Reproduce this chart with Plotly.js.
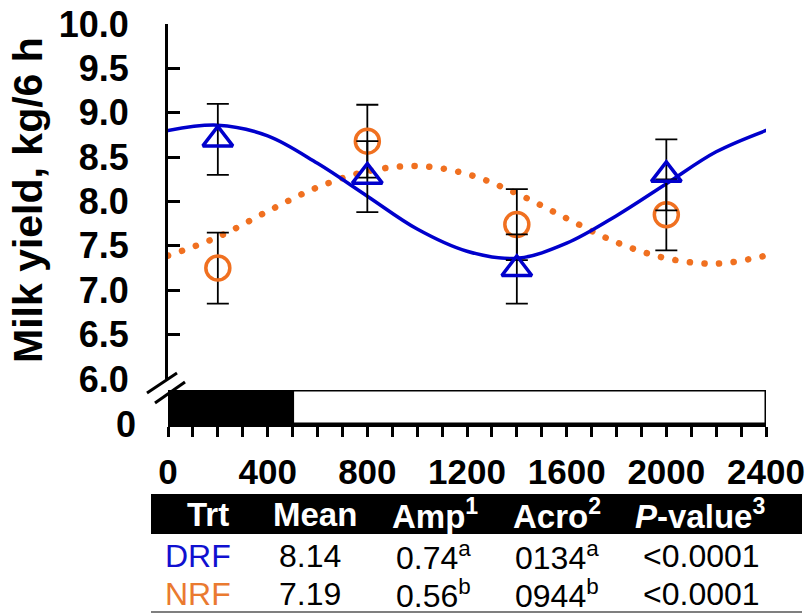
<!DOCTYPE html>
<html>
<head>
<meta charset="utf-8">
<script src="https://cdn.plot.ly/plotly-3.0.1.min.js"></script>
<style>
  html, body { margin: 0; padding: 0; background: #fff; }
  #chart { width: 808px; height: 615px; }
  /* round caps turn the dotted fit line into round dots */
  .scatterlayer .js-line { stroke-linecap: round !important; }
</style>
</head>
<body>
<div id="chart"></div>
<script>
// Sampling times (clock time, HHMM)
const sampleTimes = [200, 800, 1400, 2000];

// Observed milk yield (kg/6 h) and SE per treatment
const drfYield = [8.70, 8.28, 7.24, 8.30];
const drfSE    = [0.40, 0.40, 0.39, 0.40];
const nrfYield = [7.25, 8.68, 7.74, 7.85];
const nrfSE    = [0.40, 0.41, 0.40, 0.40];

// Fitted cosinor curves, read at regular clock times
const fitTimes = [0, 200, 400, 600, 800, 1000, 1200, 1400, 1600, 1800, 2000, 2200, 2400];
const drfFit   = [8.80, 8.86, 8.74, 8.43, 8.06, 7.69, 7.44, 7.36, 7.53, 7.84, 8.20, 8.56, 8.80];
const nrfFit   = [7.39, 7.60, 7.89, 8.16, 8.34, 8.40, 8.31, 8.09, 7.81, 7.54, 7.36, 7.30, 7.39];

// Light/dark bar under the axis break
const phaseStart = [0, 500];
const phaseEnd   = [500, 2400];
const phaseFill  = ['#000000', '#ffffff'];

// Axis ticks
const xTickVals = [0, 400, 800, 1200, 1600, 2000, 2400];
const yTickVals = [6.0, 6.5, 7.0, 7.5, 8.0, 8.5, 9.0, 9.5, 10.0];

// Cosinor summary table
const tableHeaders = ['Trt', 'Mean', 'Amp<sup>1</sup>', 'Acro<sup>2</sup>', '<i>P</i>-value<sup>3</sup>'];
const trtNames  = ['DRF', 'NRF'];
const trtMeans  = ['8.14', '7.19'];
const trtAmps   = ['0.74<sup>a</sup>', '0.56<sup>b</sup>'];
const trtAcros  = ['0134<sup>a</sup>', '0944<sup>b</sup>'];
const trtPvals  = ['&lt;0.0001', '&lt;0.0001'];

const BLUE = '#0000CC';
const ORANGE = '#F07020';
const FONT = 'Liberation Sans, Arial, sans-serif';

// plot area geometry (px) -> paper coordinates
const L = 168, R = 42, T = 24, B = 191, W = 808, H = 615;
const pw = W - L - R, ph = H - T - B;
const px = x => (x - L) / pw;
const py = y => (H - B - y) / ph;

const traces = [
  { x: fitTimes, y: nrfFit, type: 'scatter', mode: 'lines',
    line: { color: ORANGE, width: 6.5, dash: '0.1px,14.6px', shape: 'spline', smoothing: 1 },
    hoverinfo: 'skip', showlegend: false },
  { x: fitTimes, y: drfFit, type: 'scatter', mode: 'lines',
    line: { color: BLUE, width: 3.5, shape: 'spline', smoothing: 1 },
    hoverinfo: 'skip', showlegend: false },
  { x: sampleTimes, y: nrfYield, type: 'scatter', mode: 'markers',
    error_y: { type: 'data', array: nrfSE, visible: true, color: '#000', thickness: 1.8, width: 11 },
    marker: { symbol: 'circle-open', size: 24, color: ORANGE, line: { width: 3.5, color: ORANGE } },
    showlegend: false },
  { x: sampleTimes, y: drfYield, type: 'scatter', mode: 'markers',
    error_y: { type: 'data', array: drfSE, visible: true, color: '#000', thickness: 1.8, width: 11 },
    marker: { symbol: 'triangle-up-open', size: 26, color: BLUE, line: { width: 3.5, color: BLUE } },
    showlegend: false }
];

const shapes = [];
// light/dark bar on the lower axis
for (let i = 0; i < phaseStart.length; i++) {
  shapes.push({ type: 'rect', xref: 'x', yref: 'y2', x0: phaseStart[i], x1: phaseEnd[i], y0: 0, y1: 1,
    fillcolor: phaseFill[i], line: { color: '#000', width: 3 }, layer: 'above' });
}
// axis break marks
shapes.push({ type: 'line', xref: 'paper', yref: 'paper', x0: px(147), y0: py(393), x1: px(177), y1: py(373),
  line: { color: '#000', width: 3 } });
shapes.push({ type: 'line', xref: 'paper', yref: 'paper', x0: px(155), y0: py(403), x1: px(185), y1: py(382),
  line: { color: '#000', width: 3 } });
// table header band and bottom rule
shapes.push({ type: 'rect', xref: 'paper', yref: 'paper', x0: px(151), x1: px(802), y0: py(494), y1: py(534),
  fillcolor: '#000', line: { width: 0 } });
shapes.push({ type: 'line', xref: 'paper', yref: 'paper', x0: px(151), x1: px(802), y0: py(612), y1: py(612),
  line: { color: '#555', width: 1.5 } });

const annotations = [];
annotations.push({ xref: 'paper', yref: 'paper', x: px(28), y: py(200), text: 'Milk yield, kg/6 h',
  textangle: -90, showarrow: false, xanchor: 'center', yanchor: 'middle',
  font: { family: FONT, size: 41, color: '#000', weight: 'bold' } });

const headX = [208, 315, 435, 557, 700];
tableHeaders.forEach((h, i) => annotations.push({ xref: 'paper', yref: 'paper', x: px(headX[i]), y: py(514),
  text: '<b>' + h + '</b>', showarrow: false, xanchor: 'center', yanchor: 'middle',
  font: { family: FONT, size: 33, color: '#fff' } }));
const cellX = [198, 310, 433, 557, 701];
const rowY = [556, 594];
const rowColors = ['#1010D0', '#EA7A30'];
for (let r = 0; r < trtNames.length; r++) {
  const cells = [trtNames[r], trtMeans[r], trtAmps[r], trtAcros[r], trtPvals[r]];
  cells.forEach((c, i) => annotations.push({ xref: 'paper', yref: 'paper', x: px(cellX[i]), y: py(rowY[r]),
    text: c, showarrow: false, xanchor: 'center', yanchor: 'middle',
    font: { family: FONT, size: 32, color: i === 0 ? rowColors[r] : '#000' } }));
}

const layout = {
  width: W, height: H,
  margin: { l: L, r: R, t: T, b: B, pad: 0 },
  paper_bgcolor: '#fff', plot_bgcolor: 'rgba(0,0,0,0)',
  showlegend: false,
  font: { family: FONT, color: '#000' },
  xaxis: {
    range: [0, 2400], anchor: 'y2', domain: [0, 1],
    tickvals: xTickVals, ticks: 'outside', ticklen: 10, tickwidth: 3, tickcolor: '#000',
    minor: { dtick: 100, tick0: 0, ticks: 'outside', ticklen: 10, tickwidth: 3, tickcolor: '#000', showgrid: false },
    showline: true, linewidth: 3, linecolor: '#000', showgrid: false, zeroline: false,
    tickfont: { family: FONT, size: 35, color: '#000', weight: 'bold' }, ticklabelstandoff: 5
  },
  yaxis: {
    range: [6, 10], domain: [py(379), 1], anchor: 'x',
    tickvals: yTickVals, tickformat: '.1f', ticks: 'inside', ticklen: 12, tickwidth: 3, tickcolor: '#000',
    showline: true, linewidth: 3, linecolor: '#000', showgrid: false, zeroline: false,
    tickfont: { family: FONT, size: 36, color: '#000', weight: 'bold' }, ticklabelstandoff: 29
  },
  yaxis2: {
    range: [0, 1], domain: [0, py(390)], anchor: 'x',
    tickvals: [0], ticktext: ['0'], ticks: '', showline: false, showgrid: false, zeroline: false,
    tickfont: { family: FONT, size: 36, color: '#000', weight: 'bold' }, ticklabelstandoff: 31
  },
  shapes: shapes,
  annotations: annotations
};

Plotly.newPlot('chart', traces, layout, { displayModeBar: false, staticPlot: true });
</script>
</body>
</html>
